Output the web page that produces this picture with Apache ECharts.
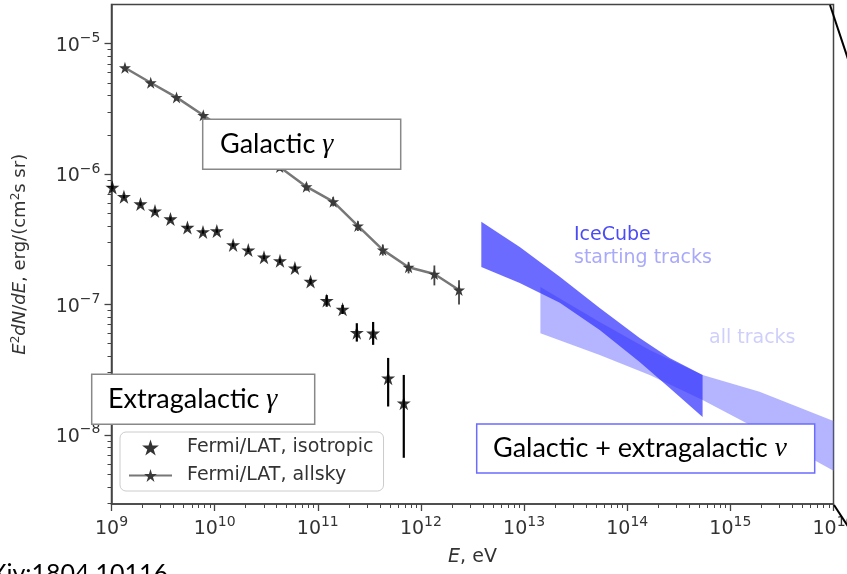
<!DOCTYPE html>
<html><head><meta charset="utf-8">
<script src="https://cdn.jsdelivr.net/npm/echarts@6/dist/echarts.min.js"></script>
<style>html,body{margin:0;padding:0;background:#fff}#c{width:847px;height:574px}</style>
</head><body><div id="c"></div>
<script>
// ---- tick values ----
const xMajorTicks = [1e9, 1e10, 1e11, 1e12, 1e13, 1e14, 1e15, 1e16];
const yMajorTicks = [1e-8, 1e-7, 1e-6, 1e-5];
const yMin = 2.95e-9, yMax = 1.995e-5;

// ---- Fermi/LAT isotropic (extragalactic gamma) ----
const isoE    = [1.02e9, 1.32e9, 1.91e9, 2.64e9, 3.73e9, 5.45e9, 7.71e9, 1.05e10, 1.51e10, 2.12e10, 3.01e10, 4.30e10, 6.0e10, 8.51e10, 1.22e11, 1.74e11, 2.39e11, 3.44e11, 4.81e11, 6.82e11];
const isoFlux = [7.89e-7, 6.70e-7, 5.89e-7, 5.20e-7, 4.52e-7, 3.89e-7, 3.60e-7, 3.66e-7, 2.86e-7, 2.61e-7, 2.30e-7, 2.16e-7, 1.90e-7, 1.50e-7, 1.07e-7, 9.18e-8, 6.08e-8, 6.01e-8, 2.72e-8, 1.75e-8];
const isoLow  = [7.65e-7, 6.50e-7, 5.71e-7, 5.04e-7, 4.38e-7, 3.77e-7, 3.49e-7, 3.55e-7, 2.77e-7, 2.52e-7, 2.22e-7, 2.08e-7, 1.82e-7, 1.43e-7, 9.6e-8, 8.45e-8, 5.19e-8, 4.90e-8, 1.65e-8, 6.67e-9];
const isoHigh = [8.13e-7, 6.90e-7, 6.07e-7, 5.36e-7, 4.66e-7, 4.01e-7, 3.71e-7, 3.77e-7, 2.95e-7, 2.70e-7, 2.38e-7, 2.24e-7, 1.98e-7, 1.57e-7, 1.18e-7, 9.9e-8, 7.18e-8, 7.34e-8, 3.89e-8, 2.88e-8];

// ---- Fermi/LAT allsky (galactic gamma) ----
const allE    = [1.35e9, 2.4e9, 4.27e9, 7.76e9, 1.38e10, 2.45e10, 4.27e10, 7.76e10, 1.41e11, 2.45e11, 4.27e11, 7.59e11, 1.35e12, 2.34e12];
const allFlux = [6.53e-6, 5.01e-6, 3.87e-6, 2.82e-6, 2.06e-6, 1.53e-6, 1.13e-6, 8.0e-7, 6.14e-7, 4.0e-7, 2.62e-7, 1.93e-7, 1.71e-7, 1.29e-7];
const allLow  = [6.25e-6, 4.78e-6, 3.68e-6, 2.67e-6, 1.95e-6, 1.44e-6, 1.06e-6, 7.45e-7, 5.65e-7, 3.65e-7, 2.37e-7, 1.73e-7, 1.40e-7, 1.0e-7];
const allHigh = [6.82e-6, 5.25e-6, 4.06e-6, 2.97e-6, 2.17e-6, 1.62e-6, 1.20e-6, 8.55e-7, 6.65e-7, 4.35e-7, 2.88e-7, 2.11e-7, 1.99e-7, 1.53e-7];

// ---- IceCube starting tracks band ----
const startE  = [3.85e12, 9.08e12, 2.22e13, 5.41e13, 1.32e14, 2.58e14, 5.38e14];
const startHi = [4.31e-7, 2.76e-7, 1.63e-7, 9.4e-8, 5.53e-8, 3.89e-8, 2.88e-8];
const startLo = [1.94e-7, 1.46e-7, 1.03e-7, 6.38e-8, 3.62e-8, 2.29e-8, 1.37e-8];

// ---- IceCube all tracks band ----
const allTrE  = [1.44e13, 5.41e13, 1.65e14, 5.38e14, 1.92e15, 1e16];
const allTrHi = [1.36e-7, 7.34e-8, 4.48e-8, 2.88e-8, 2.14e-8, 1.28e-8];
const allTrLo = [6.01e-8, 4.10e-8, 2.88e-8, 1.85e-8, 1.09e-8, 5.30e-9];

// minor tick positions (2..9 x 10^n)
const xMinorTicks = [];
for (let n = 9; n < 16; n++) for (let k = 2; k <= 9; k++) xMinorTicks.push(k * Math.pow(10, n));
const yMinorTicks = [];
for (let n = -9; n <= -5; n++) for (let k = 2; k <= 9; k++) { const v = k * Math.pow(10, n); if (v > yMin && v < yMax) yMinorTicks.push(v); }

const STAR = 'path://M50 0 L61.2 34.5 L97.6 34.5 L68.2 55.9 L79.4 90.5 L50 69.1 L20.6 90.5 L31.8 55.9 L2.4 34.5 L38.8 34.5 Z';
const FONT = 'DejaVu Sans';
const TXT = '#333';

function sup(v) {
  const e = Math.round(Math.log10(v));
  return '{b|10}{s|' + String(e).replace('-', '\u2212') + '}';
}
const tickRich = {
  b: { fontSize: 19, fontFamily: FONT, color: TXT, lineHeight: 24, verticalAlign: 'bottom' },
  s: { fontSize: 14, fontFamily: FONT, color: TXT, lineHeight: 14, verticalAlign: 'top' }
};

function band(name, E, lo, hi, color) {
  return {
    type: 'custom', name: name, silent: true, clip: true, z: 1,
    data: [[E[0], hi[0]]],
    renderItem: function (params, api) {
      const pts = [];
      for (let i = 0; i < E.length; i++) pts.push(api.coord([E[i], hi[i]]));
      for (let i = E.length - 1; i >= 0; i--) pts.push(api.coord([E[i], lo[i]]));
      return { type: 'polygon', shape: { points: pts }, style: { fill: color } };
    }
  };
}
function errBars(name, E, lo, hi, color, w, z) {
  return {
    type: 'custom', name: name, silent: true, z: z,
    encode: { x: 0, y: [1, 2] },
    data: E.map((e, i) => [e, lo[i], hi[i]]),
    renderItem: function (params, api) {
      const p1 = api.coord([api.value(0), api.value(1)]);
      const p2 = api.coord([api.value(0), api.value(2)]);
      return { type: 'line', shape: { x1: p1[0], y1: p1[1], x2: p2[0], y2: p2[1] }, style: { stroke: color, lineWidth: w } };
    }
  };
}

const chart = echarts.init(document.getElementById('c'), null, { renderer: 'canvas' });
const boxText = (x, y, w, h, stroke, rich, text, tx) => ([
  { type: 'rect', z: 100, shape: { x: x, y: y, width: w, height: h }, style: { fill: '#fff', stroke: stroke, lineWidth: 1.5 } },
  { type: 'text', z: 101, x: tx, y: y + h / 2, style: { text: text, rich: rich, verticalAlign: 'middle', align: 'left', fontSize: 27, fontFamily: 'Lato', fill: '#000' } }
]);
const boxRich = {
  t: { fontSize: 27, fontFamily: 'Lato', color: '#000' },
  g: { fontSize: 28, fontFamily: 'Liberation Serif', fontStyle: 'italic', color: '#000' }
};

chart.setOption({
  animation: false,
  backgroundColor: '#fff',
  grid: { left: 111.5, right: 13.5, top: 4.5, bottom: 70, show: true, borderColor: '#444', borderWidth: 1.5, containLabel: false, outerBoundsMode: 'none' },
  legend: {
    data: ['Fermi/LAT, isotropic', 'Fermi/LAT, allsky'],
    orient: 'vertical', left: 120, top: 432,
    padding: [6, 10, 6, 8], itemGap: 9, itemWidth: 43, itemHeight: 16,
    borderColor: '#ccc', borderWidth: 1, borderRadius: 6, backgroundColor: 'rgba(255,255,255,0.85)',
    textStyle: { fontSize: 19, fontFamily: FONT, color: TXT, padding: [0, 0, 0, 10] },
    z: 50
  },
  xAxis: [
    {
      type: 'log', logBase: 10, min: 1e9, max: 1e16, position: 'bottom',
      name: '{i|E}, eV', nameLocation: 'middle', nameGap: 44,
      nameTextStyle: { fontSize: 19, fontFamily: FONT, color: TXT, rich: { i: { fontSize: 19, fontFamily: FONT, fontStyle: 'italic', color: TXT } } },
      axisLine: { lineStyle: { color: '#444', width: 1.5 } },
      axisTick: { customValues: xMajorTicks, length: 7, lineStyle: { color: '#444', width: 1.3 } },
      axisLabel: { customValues: xMajorTicks, formatter: sup, rich: tickRich, margin: 11, hideOverlap: false },
      splitLine: { show: false }, minorTick: { show: false }
    },
    {
      type: 'log', logBase: 10, min: 1e9, max: 1e16, position: 'bottom',
      axisLine: { show: false },
      axisTick: { customValues: xMinorTicks, length: 4, lineStyle: { color: '#444', width: 1 } },
      axisLabel: { show: false }, splitLine: { show: false }
    }
  ],
  yAxis: [
    {
      type: 'log', logBase: 10, min: yMin, max: yMax, position: 'left',
      name: '{i|E}{s|2}{i|dN}/{i|dE}, erg/(cm{s|2}s sr)', nameLocation: 'middle', nameGap: 80, nameRotate: 90,
      nameTextStyle: {
        fontSize: 18, fontFamily: FONT, color: TXT, lineHeight: 22,
        rich: {
          i: { fontSize: 18, fontFamily: FONT, fontStyle: 'italic', color: TXT, lineHeight: 22 },
          s: { fontSize: 12, fontFamily: FONT, color: TXT, lineHeight: 12, verticalAlign: 'top' }
        }
      },
      axisLine: { lineStyle: { color: '#444', width: 1.5 } },
      axisTick: { customValues: yMajorTicks, length: 7, lineStyle: { color: '#444', width: 1.3 } },
      axisLabel: { customValues: yMajorTicks, formatter: sup, rich: tickRich, margin: 11 },
      splitLine: { show: false }
    },
    {
      type: 'log', logBase: 10, min: yMin, max: yMax, position: 'left',
      axisLine: { show: false },
      axisTick: { customValues: yMinorTicks, length: 4, lineStyle: { color: '#444', width: 1 } },
      axisLabel: { show: false }, splitLine: { show: false }
    }
  ],
  series: [
    band('all tracks', allTrE, allTrLo, allTrHi, 'rgba(120,120,255,0.55)'),
    band('starting tracks', startE, startLo, startHi, 'rgba(50,50,255,0.72)'),
    errBars('allsky err', allE, allLow, allHigh, '#444', 1.8, 5),
    {
      name: 'Fermi/LAT, allsky', type: 'line', data: allE.map((e, i) => [e, allFlux[i]]),
      symbol: STAR, symbolSize: 12, showAllSymbol: true, z: 6,
      lineStyle: { color: '#777', width: 2.5 }, itemStyle: { color: '#3a3a3a' }
    },
    errBars('iso err', isoE, isoLow, isoHigh, '#000', 2.2, 7),
    {
      name: 'Fermi/LAT, isotropic', type: 'scatter', data: isoE.map((e, i) => [e, isoFlux[i]]),
      symbol: STAR, symbolSize: 14, z: 8, itemStyle: { color: '#000' }
    }
  ],
  graphic: [
    ...boxText(202.7, 119.3, 198, 50, '#888', boxRich, '{t|Galactic }{g|γ}', 220),
    ...boxText(91.7, 374.3, 223, 50, '#888', boxRich, '{t|Extragalactic }{g|γ}', 108),
    ...boxText(476.7, 424, 338, 49, '#6b6bff', boxRich, '{t|Galactic + extragalactic }{g|ν}', 493),
    { type: 'text', z: 60, x: 574, y: 235, style: { text: 'IceCube', fontSize: 19, fontFamily: FONT, fill: '#4b4bf5', verticalAlign: 'middle' } },
    { type: 'text', z: 60, x: 574, y: 258, style: { text: 'starting tracks', fontSize: 19, fontFamily: FONT, fill: '#a9a9fb', verticalAlign: 'middle' } },
    { type: 'text', z: 60, x: 709, y: 338, style: { text: 'all tracks', fontSize: 19, fontFamily: FONT, fill: '#cfcffb', verticalAlign: 'middle' } },
    { type: 'line', z: 60, shape: { x1: 830, y1: 5, x2: 849, y2: 62 }, style: { stroke: '#000', lineWidth: 2 } },
    { type: 'line', z: 60, shape: { x1: 834, y1: 505, x2: 849, y2: 528 }, style: { stroke: '#000', lineWidth: 2 } },
    { type: 'text', z: 60, x: 168, y: 561, style: { text: 'arXiv:1804.10116', fontSize: 25, fontFamily: 'Lato', fill: '#000', align: 'right', verticalAlign: 'top' } }
  ]
});
</script>
</body></html>
